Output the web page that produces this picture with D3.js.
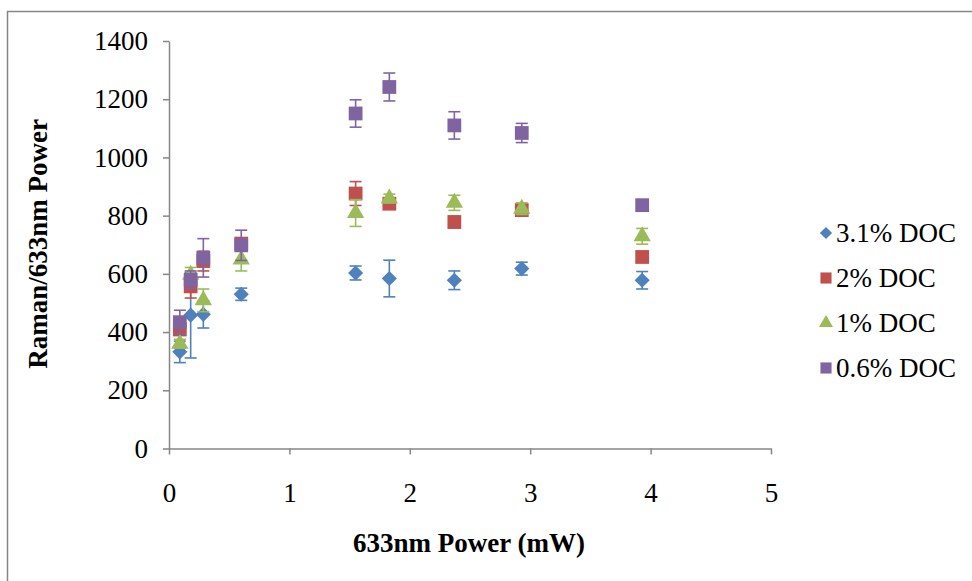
<!DOCTYPE html>
<html><head><meta charset="utf-8">
<script src="https://cdn.jsdelivr.net/npm/d3@7"></script>
<style>body{margin:0;background:#fff;}</style>
</head><body>
<svg id="c" width="972" height="581"></svg>
<script>
const xPower = [0.09, 0.18, 0.285, 0.6, 1.55, 1.83, 2.37, 2.93, 3.93];
const seriesNames = ["3.1% DOC", "2% DOC", "1% DOC", "0.6% DOC"];
const doc31 = [332, 458, 461, 530, 603, 584, 578, 618, 578];
const doc31Err = [37, 147, 47, 21, 24, 63, 32, 22, 30];
const doc2 = [409, 557, 644, 704, 876, 841, 778, 819, 658];
const doc2Err = [20, 40, 34, 15, 41, 15, 20, 15, 0];
const doc1 = [360, 597, 509, 649, 809, 859, 844, 824, 729];
const doc1Err = [15, 25, 39, 39, 46, 15, 26, 20, 27];
const doc06 = [434, 580, 655, 698, 1151, 1242, 1110, 1084, 836];
const doc06Err = [41, 30, 66, 52, 47, 48, 47, 33, 0];
const xTicks = [0, 1, 2, 3, 4, 5];
const yTicks = [0, 200, 400, 600, 800, 1000, 1200, 1400];
const colors = ["#4F81BD", "#C0504D", "#9BBB59", "#8064A2"];
const FONT = "'Liberation Serif', 'Times New Roman', serif";
const FS = "27px";

const svg = d3.select("#c");
svg.append("rect").attr("x", 7.5).attr("y", 11.5).attr("width", 990).attr("height", 600)
  .attr("fill", "none").attr("stroke", "#868686").attr("stroke-width", 1.5);

const x = d3.scaleLinear().domain([0, 5]).range([169, 771]);
const y = d3.scaleLinear().domain([0, 1400]).range([448.5, 41]);

const ax = svg.append("g").attr("transform", "translate(0,448.5)")
  .call(d3.axisBottom(x).tickValues(xTicks).tickFormat(d3.format("d")).tickSize(6).tickSizeOuter(0).tickPadding(28));
const ay = svg.append("g").attr("transform", "translate(169,0)")
  .call(d3.axisLeft(y).tickValues(yTicks).tickFormat(d3.format("d")).tickSize(6).tickSizeOuter(0).tickPadding(15));
[ax, ay].forEach(g => {
  g.attr("font-family", null).attr("font-size", null);
  g.selectAll("path,line").attr("stroke", "#868686").attr("stroke-width", 1.5);
  g.selectAll("text").style("font-size", FS).style("font-family", FONT).attr("fill", "#000");
});

svg.append("text").attr("x", 469).attr("y", 552).attr("text-anchor", "middle")
  .style("font-family", FONT).style("font-size", FS).style("font-weight", "bold").text("633nm Power (mW)");
svg.append("text").attr("transform", "translate(47,244) rotate(-90)").attr("text-anchor", "middle")
  .style("font-family", FONT).style("font-size", FS).style("font-weight", "bold").text("Raman/633nm Power");

const vals = [doc31, doc2, doc1, doc06];
const errs = [doc31Err, doc2Err, doc1Err, doc06Err];
const shapeFor = (s, scale) => {
  if (s === 0) return {d: d3.symbol(d3.symbolSquare, 115 * scale)(), rot: 45};
  if (s === 2) return {d: d3.symbol(d3.symbolTriangle, 130 * scale)(), rot: 0};
  return {d: d3.symbol(d3.symbolSquare, 190 * scale)(), rot: 0};
};

vals.forEach((v, s) => {
  const g = svg.append("g");
  const data = v.map((d, i) => ({x: xPower[i], y: d, e: errs[s][i]}));
  const eb = g.selectAll(".eb").data(data.filter(d => d.e > 0)).join("g")
    .attr("stroke", colors[s]).attr("stroke-width", 1.6);
  eb.append("line").attr("x1", d => x(d.x)).attr("x2", d => x(d.x))
    .attr("y1", d => y(d.y - d.e)).attr("y2", d => y(d.y + d.e));
  eb.append("line").attr("x1", d => x(d.x) - 6).attr("x2", d => x(d.x) + 6)
    .attr("y1", d => y(d.y - d.e)).attr("y2", d => y(d.y - d.e));
  eb.append("line").attr("x1", d => x(d.x) - 6).attr("x2", d => x(d.x) + 6)
    .attr("y1", d => y(d.y + d.e)).attr("y2", d => y(d.y + d.e));
  const sh = shapeFor(s, 1);
  g.selectAll(".m").data(data).join("path")
    .attr("transform", d => `translate(${x(d.x)},${y(d.y)}) rotate(${sh.rot})`)
    .attr("d", sh.d).attr("fill", colors[s]);
});

const leg = svg.append("g");
seriesNames.forEach((n, i) => {
  const yy = 233 + i * 45;
  const sh = shapeFor(i, 0.65);
  leg.append("path").attr("transform", `translate(826,${yy}) rotate(${sh.rot})`)
    .attr("d", sh.d).attr("fill", colors[i]);
  leg.append("text").attr("x", 836).attr("y", yy).attr("dy", "0.35em")
    .style("font-family", FONT).style("font-size", FS).text(n);
});
</script>
</body></html>
